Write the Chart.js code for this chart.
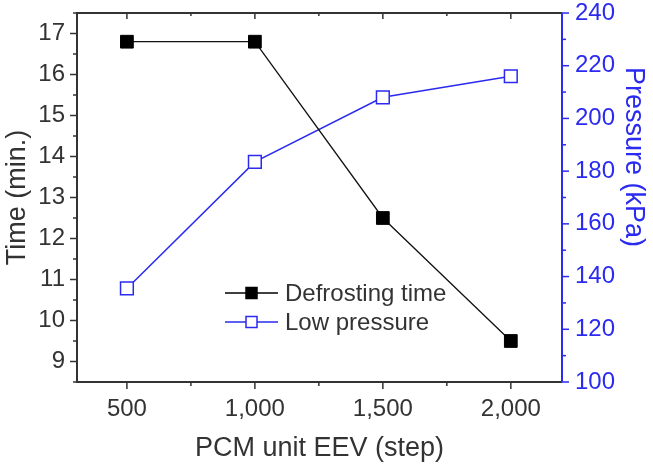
<!DOCTYPE html>
<html><head><meta charset="utf-8">
<script src="https://cdn.jsdelivr.net/npm/chart.js@4"></script>
<style>html,body{margin:0;padding:0;background:#fff}#wrap{width:653px;height:465px;position:relative}</style>
</head><body><div id="wrap"><canvas id="c" width="653" height="465"></canvas></div>
<script>
const steps = [500, 1000, 1500, 2000];
const defrostTime = [16.8, 16.8, 12.5, 9.5];
const lowPressure = [135.5, 183.5, 208, 216];
const xTicks = [500, 1000, 1500, 2000];
const timeTicks = [9, 10, 11, 12, 13, 14, 15, 16, 17];
const pressureTicks = [100, 120, 140, 160, 180, 200, 220, 240];
const seriesNames = ['Defrosting time', 'Low pressure'];
const rightTitle = 'Pressure (kPa)';

const AX = '#333333', BLUE = '#2a2af0';
const FONT = '"Liberation Sans", Arial, sans-serif';

const frame = {
  id: 'frame',
  afterDraw(chart) {
    const ctx = chart.ctx, a = chart.chartArea;
    const x = chart.scales.x, y = chart.scales.y, y2 = chart.scales.y2;
    ctx.save();
    ctx.lineCap = 'butt';
    ctx.strokeStyle = AX; ctx.lineWidth = 2;
    ctx.beginPath();
    ctx.moveTo(a.right, a.top); ctx.lineTo(a.left, a.top); ctx.lineTo(a.left, a.bottom); ctx.lineTo(a.right, a.bottom);
    ctx.stroke();
    ctx.lineWidth = 1.5;
    for (let v = 250; v <= 2200; v += 250) {
      const px = x.getPixelForValue(v);
      if (px < a.left || px > a.right) continue;
      const major = v % 500 === 0;
      ctx.beginPath();
      ctx.moveTo(px, a.bottom); ctx.lineTo(px, a.bottom + (major ? 7 : 4));
      ctx.moveTo(px, a.top); ctx.lineTo(px, a.top + (major ? 6 : 3));
      ctx.stroke();
    }
    for (let v = 8.5; v <= 17.5; v += 0.5) {
      const py = y.getPixelForValue(v);
      const major = Math.abs(v - Math.round(v)) < 1e-6;
      ctx.beginPath(); ctx.moveTo(a.left, py); ctx.lineTo(a.left - (major ? 7 : 4), py); ctx.stroke();
    }
    ctx.strokeStyle = BLUE; ctx.lineWidth = 2;
    ctx.beginPath(); ctx.moveTo(a.right, a.top); ctx.lineTo(a.right, a.bottom); ctx.stroke();
    ctx.lineWidth = 1.5;
    for (let v = 100; v <= 240; v += 10) {
      const py = y2.getPixelForValue(v);
      const major = v % 20 === 0;
      ctx.beginPath(); ctx.moveTo(a.right, py); ctx.lineTo(a.right + (major ? 7 : 4), py); ctx.stroke();
    }
    // right axis title (placed above centre as in the original)
    ctx.save();
    ctx.translate(a.right + 71, a.top + 144);
    ctx.rotate(Math.PI / 2);
    ctx.fillStyle = BLUE; ctx.font = '27px ' + FONT; ctx.textAlign = 'center'; ctx.textBaseline = 'middle';
    ctx.fillText(rightTitle, 0, 0);
    ctx.restore();
    // legend
    const lx = a.left + 148, ly = a.top + 280, gap = 29;
    const items = [
      {name: seriesNames[0], color: '#000', fill: '#000'},
      {name: seriesNames[1], color: BLUE, fill: '#fff'}
    ];
    items.forEach((it, i) => {
      const yy = ly + i * gap;
      ctx.strokeStyle = it.color; ctx.lineWidth = 1.3;
      ctx.beginPath(); ctx.moveTo(lx, yy); ctx.lineTo(lx + 53, yy); ctx.stroke();
      ctx.fillStyle = it.fill; ctx.lineWidth = 1.5;
      ctx.fillRect(lx + 21, yy - 5.5, 11, 11);
      ctx.strokeRect(lx + 21, yy - 5.5, 11, 11);
      ctx.fillStyle = AX; ctx.font = '24px ' + FONT; ctx.textBaseline = 'middle'; ctx.textAlign = 'left';
      ctx.fillText(it.name, lx + 60, yy + 1);
    });
    ctx.restore();
  }
};

new Chart(document.getElementById('c'), {
  type: 'line',
  data: {
    datasets: [
      {label: seriesNames[0], data: steps.map((s, i) => ({x: s, y: defrostTime[i]})), yAxisID: 'y',
       borderColor: '#111', borderWidth: 1.3, pointStyle: 'rect', pointRadius: 9, pointHoverRadius: 9,
       pointBackgroundColor: '#000', pointBorderColor: '#000', pointBorderWidth: 1, clip: false},
      {label: seriesNames[1], data: steps.map((s, i) => ({x: s, y: lowPressure[i]})), yAxisID: 'y2',
       borderColor: BLUE, borderWidth: 1.5, pointStyle: 'rect', pointRadius: 9, pointHoverRadius: 9,
       pointBackgroundColor: '#fff', pointBorderColor: BLUE, pointBorderWidth: 1.5, clip: false}
    ]
  },
  options: {
    responsive: false, animation: false, devicePixelRatio: 1,
    layout: {padding: {top: 13, left: 0, right: 0, bottom: 0}},
    plugins: {legend: {display: false}, tooltip: {enabled: false}},
    scales: {
      x: {type: 'linear', min: 305, max: 2200, position: 'bottom',
          afterBuildTicks: s => { s.ticks = xTicks.map(v => ({value: v})); },
          afterFit: s => { s.height = 83; s.paddingLeft = 0; s.paddingRight = 0; },
          grid: {display: false, drawTicks: false}, border: {display: false},
          ticks: {color: AX, font: {family: FONT, size: 24}, padding: 13, maxRotation: 0,
                  callback: v => v.toLocaleString('en-US')},
          title: {display: true, text: 'PCM unit EEV (step)', color: AX, font: {family: FONT, size: 27}, padding: {top: 0, bottom: 0}}},
      y: {type: 'linear', min: 8.5, max: 17.5, position: 'left',
          afterBuildTicks: s => { s.ticks = timeTicks.map(v => ({value: v})); },
          afterFit: s => { s.width = 77; s.paddingTop = 0; s.paddingBottom = 0; },
          grid: {display: false, drawTicks: false}, border: {display: false},
          ticks: {color: AX, font: {family: FONT, size: 24}, padding: 12},
          title: {display: true, text: 'Time (min.)', color: AX, font: {family: FONT, size: 27}, padding: {top: 1, bottom: 0}}},
      y2: {type: 'linear', min: 100, max: 240, position: 'right',
          afterBuildTicks: s => { s.ticks = pressureTicks.map(v => ({value: v})); },
          afterFit: s => { s.width = 91; s.paddingTop = 0; s.paddingBottom = 0; },
          grid: {display: false, drawTicks: false}, border: {display: false},
          ticks: {color: BLUE, font: {family: FONT, size: 24}, padding: 13},
          title: {display: false}}
    }
  },
  plugins: [frame]
});
</script></body></html>
